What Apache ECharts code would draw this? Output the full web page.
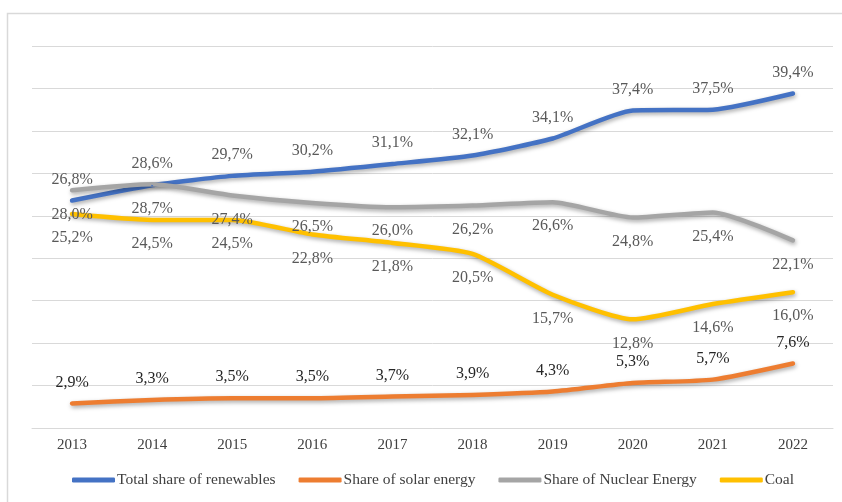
<!DOCTYPE html>
<html>
<head>
<meta charset="utf-8">
<script src="https://cdn.jsdelivr.net/npm/echarts@6/dist/echarts.min.js"></script>
<style>
html,body{margin:0;padding:0;background:#fff;}
#chart{width:842px;height:502px;}
</style>
</head>
<body>
<div id="chart"></div>
<script>
const years = ['2013','2014','2015','2016','2017','2018','2019','2020','2021','2022'];
const renewables = [26.8, 28.6, 29.7, 30.2, 31.1, 32.1, 34.1, 37.4, 37.5, 39.4];
const solar = [2.9, 3.3, 3.5, 3.5, 3.7, 3.9, 4.3, 5.3, 5.7, 7.6];
const nuclear = [28.0, 28.7, 27.4, 26.5, 26.0, 26.2, 26.6, 24.8, 25.4, 22.1];
const coal = [25.2, 24.5, 24.5, 22.8, 21.8, 20.5, 15.7, 12.8, 14.6, 16.0];
const seriesNames = ['Total share of renewables', 'Share of solar energy', 'Share of Nuclear Energy', 'Coal'];
const colors = ['#4472C4', '#ED7D31', '#A5A5A5', '#FFC000'];

const FONT = '"Liberation Serif", "Times New Roman", serif';
const fmt = p => p.value.toFixed(1).replace('.', ',') + '%';

function mk(name, data, color, pos, labelColor) {
  return {
    name: name,
    type: 'line',
    data: data,
    smooth: 0.2,
    symbol: 'circle',
    symbolSize: 2,
    showSymbol: true,
    itemStyle: { color: color },
    lineStyle: {
      color: color, width: 4.5, cap: 'round', join: 'round',
      shadowColor: 'rgba(0,0,0,0.35)', shadowBlur: 4, shadowOffsetX: 1, shadowOffsetY: 2
    },
    label: {
      show: true, position: pos, distance: pos === 'top' ? 12 : 15,
      formatter: fmt, color: labelColor, fontFamily: FONT, fontSize: 16
    },
    emphasis: { disabled: true },
    animation: false
  };
}

const chart = echarts.init(document.getElementById('chart'), null, { renderer: 'canvas' });
chart.setOption({
  animation: false,
  backgroundColor: '#fff',
  color: colors,
  graphic: [{
    type: 'rect', silent: true, z: -10,
    shape: { x: 7.5, y: 13.5, width: 900, height: 600 },
    style: { fill: 'none', stroke: '#d9d9d9', lineWidth: 1.5 }
  }],
  grid: { left: 32, right: 9, top: 46, bottom: 74 },
  xAxis: {
    type: 'category', data: years, boundaryGap: true,
    axisLine: { show: true, lineStyle: { color: '#d9d9d9', width: 1 } },
    axisTick: { show: false },
    axisLabel: { color: '#404040', fontFamily: FONT, fontSize: 15, margin: 10 }
  },
  yAxis: {
    type: 'value', min: 0, max: 45, interval: 5,
    axisLabel: { show: false }, axisLine: { show: false }, axisTick: { show: false },
    splitLine: { lineStyle: { color: '#d9d9d9', width: 1 } }
  },
  legend: {
    data: seriesNames, left: 72, top: 472, padding: 0,
    itemWidth: 43, itemHeight: 5, itemGap: 23,
    icon: 'roundRect',
    textStyle: { color: '#404040', fontFamily: FONT, fontSize: 15.5, padding: [0,0,0,-3] }
  },
  series: [
    mk(seriesNames[0], renewables, colors[0], 'top', '#595959'),
    mk(seriesNames[1], solar, colors[1], 'top', '#262626'),
    mk(seriesNames[2], nuclear, colors[2], 'bottom', '#595959'),
    mk(seriesNames[3], coal, colors[3], 'bottom', '#595959')
  ]
});
</script>
</body>
</html>
